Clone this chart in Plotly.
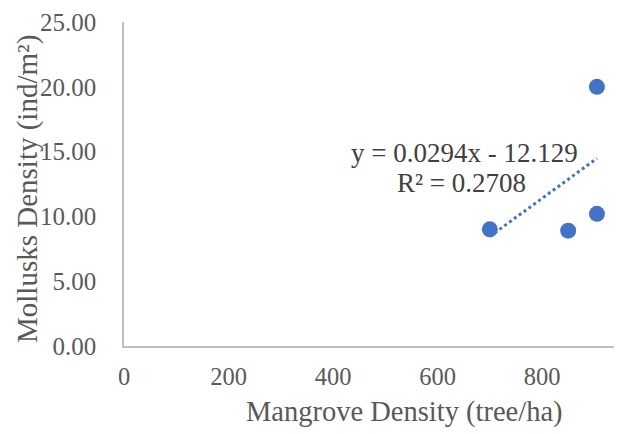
import numpy as np
import plotly.graph_objects as go

mangrove_density = [700, 850, 905, 905]
mollusk_density = [9.0, 8.9, 10.2, 20.0]
trend_slope = 0.0294
trend_intercept = -12.129
r_squared = 0.2708
x_ticks = [0, 200, 400, 600, 800]
y_ticks = [0, 5, 10, 15, 20, 25]

blue = "#4472C4"
font_family = "Liberation Serif, Times New Roman, serif"

tx = np.array([min(mangrove_density), max(mangrove_density)])
ty = trend_slope * tx + trend_intercept

fig = go.Figure()
fig.add_trace(go.Scatter(x=tx, y=ty, mode="lines",
                         line=dict(color=blue, width=3, dash="dot"),
                         hoverinfo="skip", showlegend=False))
fig.add_trace(go.Scatter(x=mangrove_density, y=mollusk_density, mode="markers",
                         marker=dict(color=blue, size=16), showlegend=False))

def px(x):
    return (x - 124) / 498

def py(y):
    return (346 - y) / 324

# page has an 8px body margin; plot area targets window px 124..622 x 22..346
fig.update_layout(
    width=614, height=426,
    margin=dict(l=116, r=0, t=14, b=88),
    paper_bgcolor="white", plot_bgcolor="white",
    font=dict(family=font_family, color="#595959", size=25),
    xaxis=dict(range=[0, 953], tickvals=x_ticks, showgrid=False, zeroline=False,
               showline=True, linecolor="#BFBFBF", linewidth=1.5, ticks="",
               ticklabelstandoff=8, tickfont=dict(size=24.5, color="#595959")),
    yaxis=dict(range=[0, 25], tickvals=y_ticks, tickformat=".2f", showgrid=False,
               zeroline=False, showline=True, linecolor="#BFBFBF", linewidth=1.5,
               ticks="", ticklabelstandoff=21, tickfont=dict(size=25, color="#595959")),
    annotations=[
        dict(text="Mangrove Density (tree/ha)", xref="paper", yref="paper",
             x=px(404), y=py(412), showarrow=False,
             font=dict(size=28.5, color="#595959"), xanchor="center", yanchor="middle"),
        dict(text="Mollusks Density (ind/m²)", xref="paper", yref="paper",
             x=px(27), y=py(189), showarrow=False, textangle=-90, borderpad=0,
             font=dict(size=29, color="#595959"), xanchor="center", yanchor="middle"),
        dict(text=f"y = {trend_slope}x - {abs(trend_intercept)}",
             xref="paper", yref="paper", x=px(464), y=py(153),
             showarrow=False, font=dict(size=27, color="#404040"),
             xanchor="center", yanchor="middle"),
        dict(text=f"R² = {r_squared}",
             xref="paper", yref="paper", x=px(461), y=py(183),
             showarrow=False, font=dict(size=27, color="#404040"),
             xanchor="center", yanchor="middle"),
    ],
)

fig.write_html("out.html")
